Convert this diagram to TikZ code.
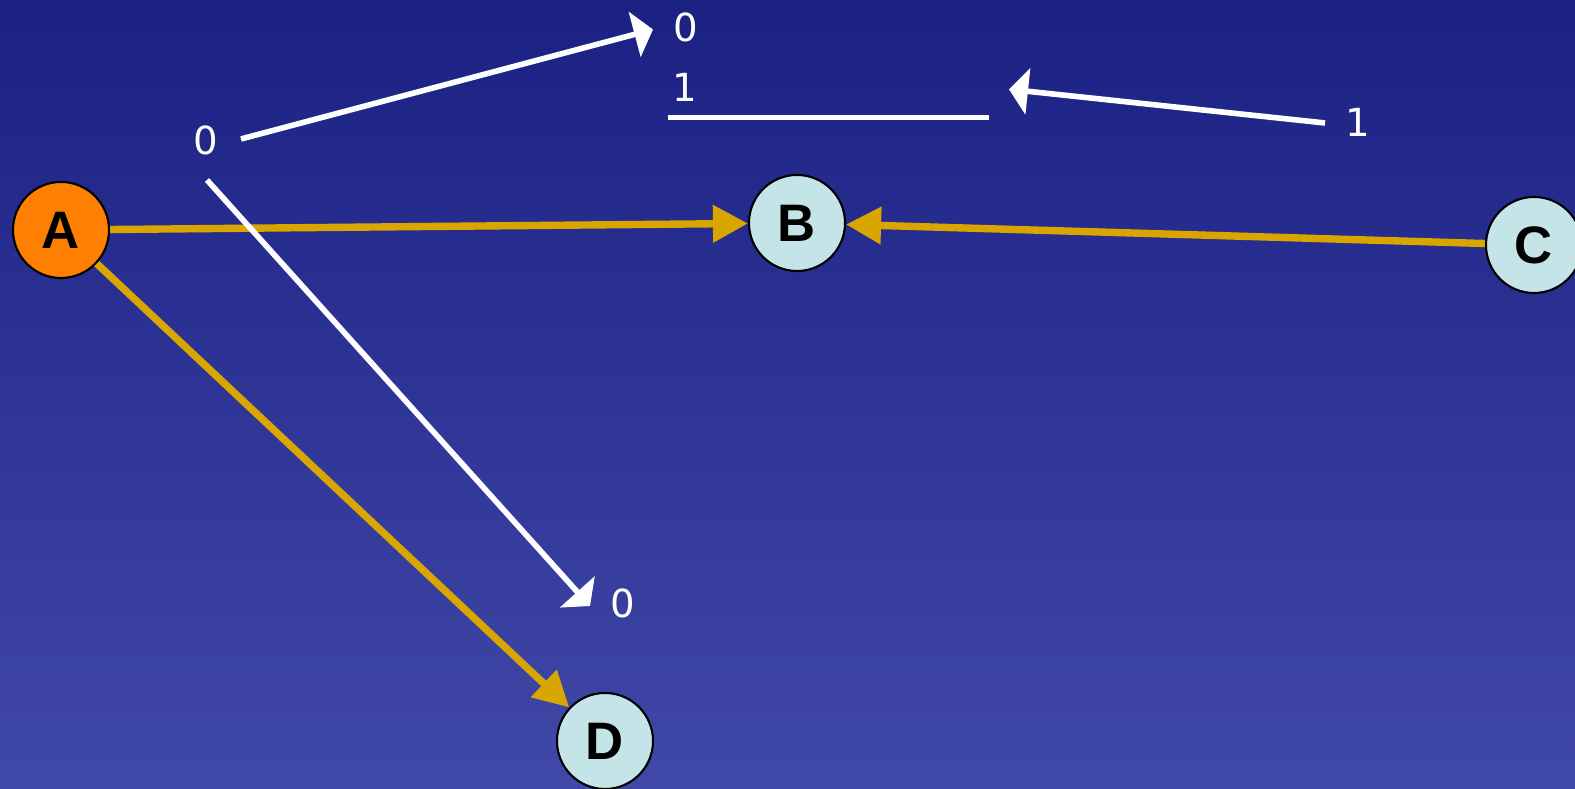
\documentclass[tikz,border=0pt]{standalone}
\usepackage{fontspec}
\setmainfont{Liberation Sans}
\newfontfamily\digitfont{DejaVu Sans}
\usetikzlibrary{arrows.meta}
\definecolor{skytop}{HTML}{1B2183}
\definecolor{skybottom}{HTML}{4048A8}
\definecolor{nodecyan}{HTML}{C4E4E8}
\definecolor{nodeorange}{HTML}{FF8000}
\definecolor{edgegold}{HTML}{D9A600}

\begin{document}
\begin{tikzpicture}[x=0.01cm, y=-0.01cm,
  vertex/.style={circle, draw=black, line width=0.6pt, minimum size=0.96cm,
                 inner sep=0pt, font=\fontsize{15}{15}\selectfont\bfseries},
  link/.style={edgegold, line width=2.1pt,
               -{Triangle[length=0.35cm, width=0.36cm]}},
  bitlabel/.style={text=white, inner sep=0pt,
                   font=\digitfont\fontsize{11}{11}\selectfont},
  bitwire/.style={white, line width=1.6pt},
  bitarrow/.style={bitwire, -{Triangle[length=0.19cm, width=0.46cm]}}]
  \useasboundingbox (0,0) rectangle (1575,789);
  \shade[top color=skytop, bottom color=skybottom] (0,0) rectangle (1575,789);

  % network nodes
  \foreach \name/\pos/\col in {A/{61,230}/nodeorange, B/{797,223}/nodecyan,
                               C/{1534,245}/nodecyan, D/{605,741}/nodecyan}{%
    \node[vertex, fill=\col] (\name) at (\pos) {\name};}

  \draw[link] (A) -- (B);
  \draw[link] (C) -- (B);
  \draw[link] (A) -- (D);

  % bit labels
  \node[bitlabel] (zeroA)  at (206,140)    {0};
  \node[bitlabel] (zeroB)  at (686,27)     {0};
  \node[bitlabel] (zeroD)  at (623,603)    {0};
  \node[bitlabel] (oneB)   at (685,87.5)   {1};
  \node[bitlabel] (oneC)   at (1357.5,122.5) {1};

  \coordinate (upFrom)   at (241,139);
  \coordinate (upTo)     at (653,29.5);
  \coordinate (downFrom) at (207,180);
  \coordinate (downTo)   at (590,606);
  \coordinate (barL)     at (668,117.5);
  \coordinate (barR)     at (989,117.5);
  \coordinate (backFrom) at (1325,123);
  \coordinate (backTo)   at (1009,89.3);

  \draw[bitarrow] (upFrom) -- (upTo);
  \draw[bitarrow] (downFrom) -- (downTo);
  \draw[bitwire] (barL) -- (barR);
  \draw[bitarrow] (backFrom) -- (backTo);
\end{tikzpicture}
\end{document}
